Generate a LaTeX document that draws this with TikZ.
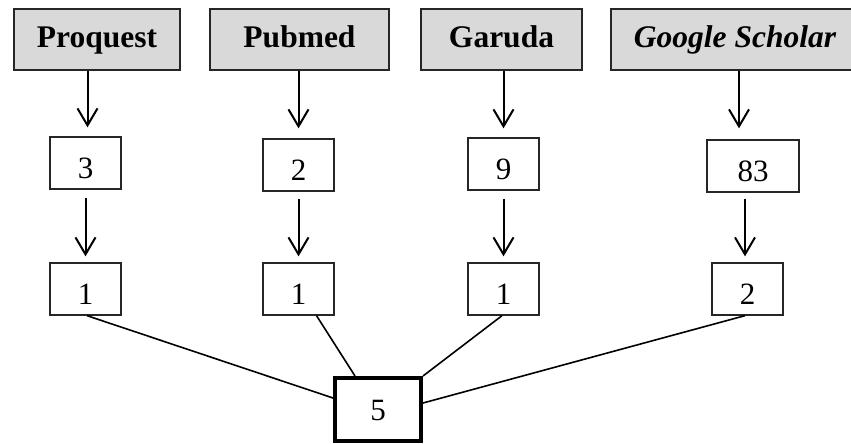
\documentclass[tikz,border=0pt]{standalone}
\usepackage{fontspec}
\setmainfont{Liberation Serif}
\usetikzlibrary{arrows.meta,calc}
\definecolor{boxgray}{HTML}{D9D9D9}
\tikzset{
  srcbox/.style={draw=black!85, line width=1.3pt, fill=boxgray, minimum height=61pt, inner sep=0pt,
     text height=24pt, text depth=7pt,
     font=\fontsize{31.5}{34}\selectfont\bfseries},
  numbox/.style={draw=black!85, line width=1.3pt, fill=white, minimum height=52pt, minimum width=71pt, inner sep=0pt,
     text height=30pt, text depth=0pt,
     font=\fontsize{31}{34}\selectfont},
  totbox/.style={draw=black, line width=4pt, fill=white, minimum height=63pt, minimum width=86pt, inner sep=0pt,
     text height=24pt, text depth=3pt,
     font=\fontsize{31}{34}\selectfont},
  arr/.style={line width=2pt, -{Straight Barb[length=17pt,width=20pt,line width=2pt]}},
  link/.style={line width=1.6pt}
}
\begin{document}
\begin{tikzpicture}[x=1pt,y=-1pt]
\useasboundingbox (0,0) rectangle (851,444);
% source boxes
\node[srcbox, minimum width=166pt] (pq) at (97,39.5) {Proquest};
\node[srcbox, minimum width=179pt] (pm) at (299.5,39.5) {Pubmed};
\node[srcbox, minimum width=161pt] (ga) at (501.5,39.5) {Garuda};
\node[srcbox, minimum width=248pt] (gs) at (735,39.5) {\itshape Google Scholar};
% middle boxes
\node[numbox] (p3) at (85.5,163) {3};
\node[numbox] (m2) at (298.5,165) {2};
\node[numbox] (g9) at (503.5,164) {9};
\node[numbox, minimum width=92pt] (s83) at (753,166) {83};
% lower boxes
\node[numbox] (p1) at (85.5,289) {1};
\node[numbox] (m1) at (298.5,289) {1};
\node[numbox] (g1) at (503.5,289) {1};
\node[numbox] (s2) at (747.5,289) {2};
% total
\node[totbox] (five) at (378,409.5) {5};
% arrows top -> middle
\draw[arr, shorten >=9pt] ([xshift=2pt]p3.north |- pq.south) -- ([xshift=2pt]p3.north);
\draw[arr, shorten >=10pt] (m2.north |- pm.south) -- (m2.north);
\draw[arr, shorten >=9pt] (g9.north |- ga.south) -- (g9.north);
\draw[arr, shorten >=11pt] ([xshift=-14pt]s83.north |- gs.south) -- ([xshift=-14pt]s83.north);
% arrows middle -> lower
\draw[arr, shorten <=8pt, shorten >=6pt] (p3.south) -- (p1.north);
\draw[arr, shorten <=7pt, shorten >=6pt] (m2.south) -- (m1.north);
\draw[arr, shorten <=8pt, shorten >=6pt] (g9.south) -- (g1.north);
\draw[arr, shorten <=6pt, shorten >=6pt] ([xshift=-8pt]s83.south) -- ([xshift=-2.5pt]s2.north);
% links to total
\draw[link] ([xshift=1.5pt]p1.south) -- ([yshift=11.5pt]five.west);
\draw[link] ([xshift=18pt]m1.south) -- ([xshift=-23pt]five.north);
\draw[link] ([xshift=-1.5pt]g1.south) -- (five.north east);
\draw[link] ([xshift=-2.5pt]s2.south) -- ([yshift=6.5pt]five.east);
\end{tikzpicture}
\end{document}
